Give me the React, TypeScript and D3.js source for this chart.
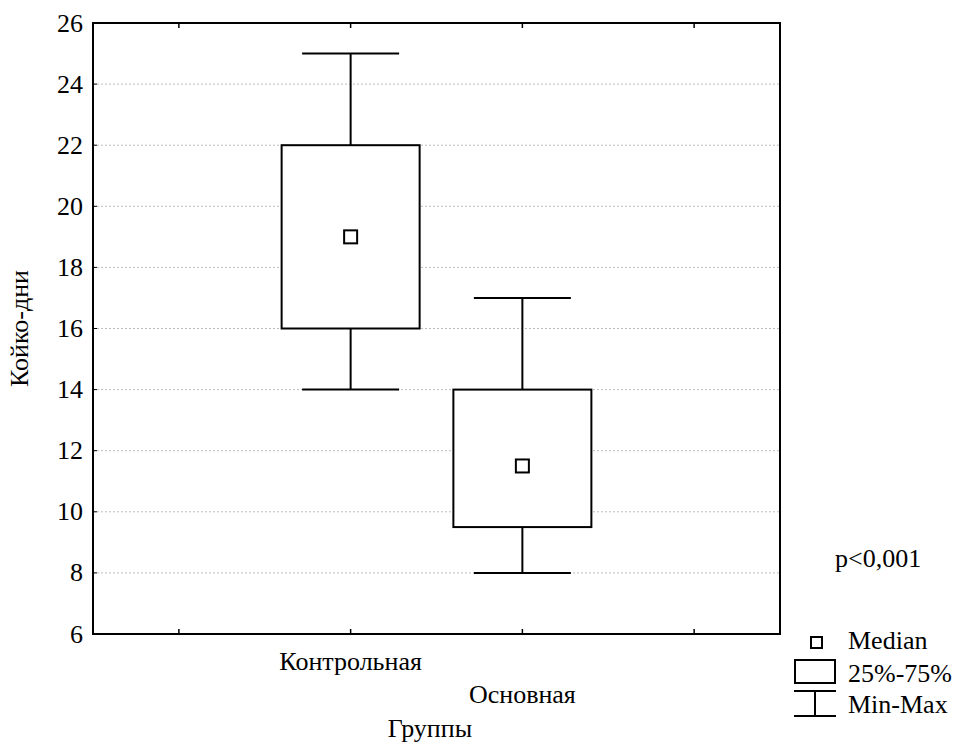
import React, { useEffect } from "react";
import * as d3 from "d3";

const groups = ["Контрольная", "Основная"];
const groupSlots = [1.5, 2.5];
const medians = [19, 11.5];
const q1 = [16, 9.5];
const q3 = [22, 14];
const mins = [14, 8];
const maxs = [25, 17];
const yTicks = [6, 8, 10, 12, 14, 16, 18, 20, 22, 24, 26];
const xTicks = [0.5, 1.5, 2.5, 3.5];

const W = 956;
const H = 746;
const left = 93, right = 780, top = 23, bottom = 634;
const txt: React.CSSProperties = { fontFamily: '"Liberation Serif", "DejaVu Serif", "Times New Roman", serif', fontSize: 26 };

const App = () => {
    useEffect(() => {
        document.body.style.margin = "0";
    }, []);

    const x = d3.scaleLinear().domain([0, 4]).range([left, right]);
    const y = d3.scaleLinear().domain([6, 26]).range([bottom, top]);
    const boxW = 138;
    const capW = 97;
    const med = 13;

    return (
        <svg width={W} height={H} style={{ display: "block", background: "#fff" }}>
            {/* dotted grid */}
            {yTicks.slice(1, -1).map(t => (
                <line key={"g" + t} x1={left} x2={right} y1={y(t)} y2={y(t)}
                    stroke="#bdbdbd" strokeWidth={1} strokeDasharray="2,2" />
            ))}

            {/* boxes */}
            {groups.map((g, i) => {
                const cx = x(groupSlots[i]);
                return (
                    <g key={g} stroke="#000" strokeWidth={2} fill="none">
                        <line x1={cx} x2={cx} y1={y(maxs[i])} y2={y(q3[i])} />
                        <line x1={cx} x2={cx} y1={y(q1[i])} y2={y(mins[i])} />
                        <line x1={cx - capW / 2} x2={cx + capW / 2} y1={y(maxs[i])} y2={y(maxs[i])} />
                        <line x1={cx - capW / 2} x2={cx + capW / 2} y1={y(mins[i])} y2={y(mins[i])} />
                        <rect x={cx - boxW / 2} y={y(q3[i])} width={boxW} height={y(q1[i]) - y(q3[i])} fill="#fff" />
                        <rect x={cx - med / 2} y={y(medians[i]) - med / 2} width={med} height={med} fill="#fff" />
                    </g>
                );
            })}

            {/* frame */}
            <rect x={left} y={top} width={right - left} height={bottom - top} fill="none" stroke="#000" strokeWidth={2} />

            {/* ticks */}
            {yTicks.map(t => (
                <g key={"y" + t}>
                    <line x1={left} x2={left + 4} y1={y(t)} y2={y(t)} stroke="#000" strokeWidth={1} />
                    <text x={left - 10} y={y(t)} dy="0.33em" textAnchor="end" style={txt}>{t}</text>
                </g>
            ))}
            {xTicks.map(t => (
                <g key={"x" + t} stroke="#000" strokeWidth={1.5}>
                    <line x1={x(t)} x2={x(t)} y1={bottom} y2={bottom - 5} />
                    <line x1={x(t)} x2={x(t)} y1={top} y2={top + 5} />
                </g>
            ))}

            {/* category labels, staggered */}
            {groups.map((g, i) => (
                <text key={"l" + g} x={x(groupSlots[i])} y={i % 2 === 0 ? 670 : 703} textAnchor="middle" style={txt}>{g}</text>
            ))}

            <text x={430} y={737} textAnchor="middle" style={txt}>Группы</text>
            <text transform={`translate(28, ${(top + bottom) / 2}) rotate(-90)`} textAnchor="middle" style={txt}>Койко-дни</text>

            <text x={835} y={567} style={txt}>p&lt;0,001</text>

            {/* legend */}
            <g stroke="#000" strokeWidth={2} fill="#fff">
                <rect x={811} y={637} width={11} height={11} />
                <rect x={795} y={660} width={40} height={23} />
                <line x1={794} x2={836} y1={691} y2={691} />
                <line x1={794} x2={836} y1={716} y2={716} />
                <line x1={815} x2={815} y1={691} y2={716} />
            </g>
            <text x={848} y={649} style={txt}>Median</text>
            <text x={848} y={682} style={txt}>25%-75%</text>
            <text x={848} y={713} style={txt}>Min-Max</text>
        </svg>
    );
};

export default App;
